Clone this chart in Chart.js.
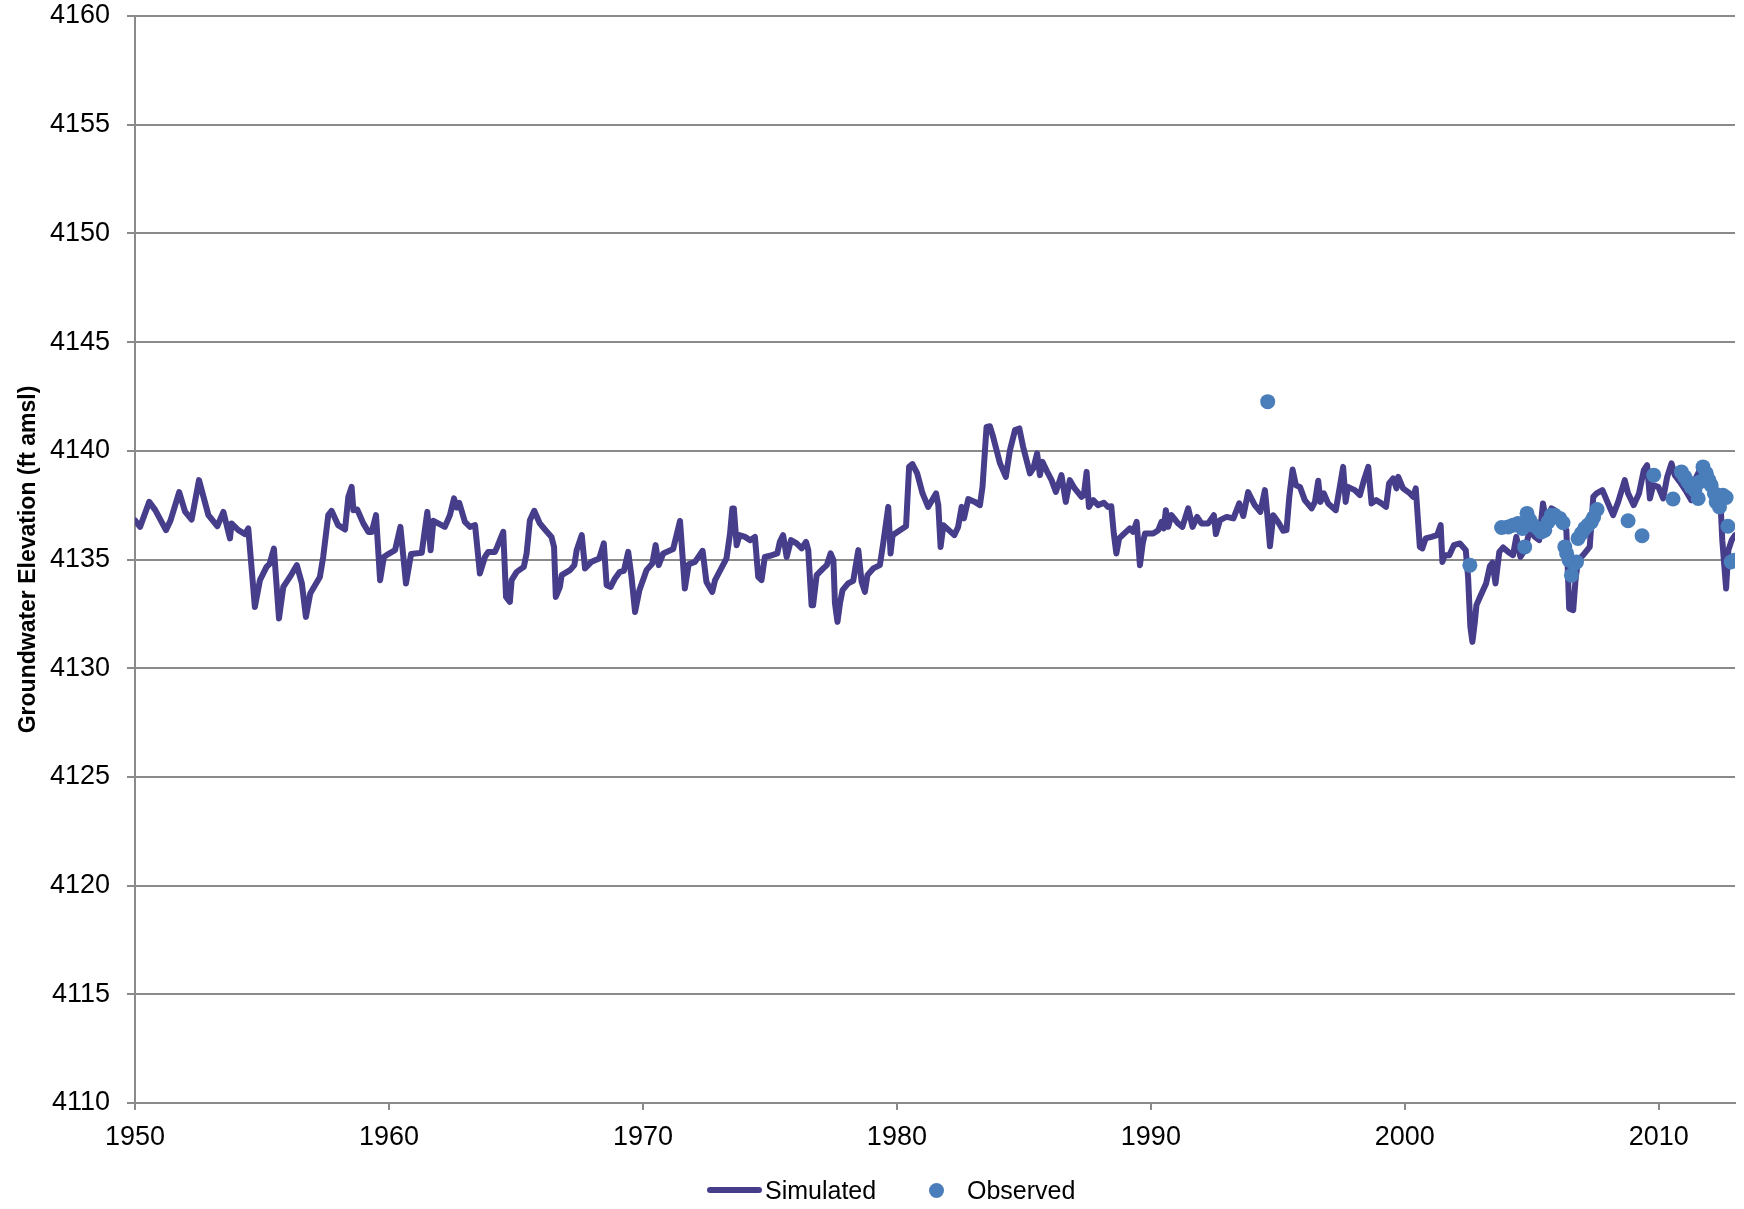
<!DOCTYPE html>
<html>
<head>
<meta charset="utf-8">
<title>Groundwater Elevation</title>
<script src="https://cdn.jsdelivr.net/npm/chart.js@4.4.1/dist/chart.umd.min.js"></script>
<style>
    body { margin: 0; background: #fff; }
    #wrap { position: relative; width: 1744px; height: 1209px; }
    .legend { position: absolute; left: 0; top: 0; width: 1744px; height: 1209px; pointer-events: none;
              font: 25px "Liberation Sans", Arial, sans-serif; color: #000; }
    .legend span { position: absolute; line-height: 30px; }
    .swatch-line { position: absolute; left: 707px; top: 1187px; width: 55px; height: 6px; border-radius: 3px; background: #463d8b; }
    .swatch-dot { position: absolute; left: 929px; top: 1183px; width: 15px; height: 15px; border-radius: 50%; background: #4a7ebb; }
</style>
</head>
<body>
<div id="wrap">
    <canvas id="mainChart"></canvas>
    <div class="legend">
        <div class="swatch-line"></div>
        <span style="left:765px; top:1175px;">Simulated</span>
        <div class="swatch-dot"></div>
        <span style="left:967px; top:1175px;">Observed</span>
    </div>
</div>
<script>
// Simulated groundwater elevation (ft amsl), read off the model hydrograph
const simYears = [
    1950.0, 1950.2, 1950.56, 1950.8, 1951.22, 1951.4, 1951.74, 1951.97, 1952.23, 1952.52,
    1952.89, 1953.24, 1953.48, 1953.74, 1953.8, 1954.07, 1954.33, 1954.46, 1954.72, 1954.92,
    1955.18, 1955.3, 1955.47, 1955.67, 1955.84, 1956.1, 1956.37, 1956.57, 1956.73, 1956.9,
    1957.28, 1957.41, 1957.61, 1957.74, 1958.0, 1958.27, 1958.4, 1958.53, 1958.6, 1958.75,
    1958.99, 1959.19, 1959.32, 1959.49, 1959.65, 1959.8, 1959.97, 1960.24, 1960.45, 1960.67,
    1960.87, 1961.29, 1961.51, 1961.64, 1961.75, 1962.2, 1962.4, 1962.56, 1962.67, 1962.77,
    1962.99, 1963.19, 1963.39, 1963.58, 1963.78, 1963.91, 1964.17, 1964.26, 1964.5, 1964.61,
    1964.76, 1964.83, 1965.03, 1965.31, 1965.42, 1965.55, 1965.72, 1965.94, 1966.14, 1966.4,
    1966.5, 1966.57, 1966.73, 1966.8, 1967.13, 1967.3, 1967.39, 1967.59, 1967.72, 1967.98,
    1968.28, 1968.46, 1968.57, 1968.73, 1968.9, 1969.09, 1969.25, 1969.42, 1969.55, 1969.69,
    1969.86, 1970.14, 1970.37, 1970.5, 1970.62, 1970.8, 1971.19, 1971.46, 1971.65, 1971.8,
    1972.05, 1972.35, 1972.5, 1972.73, 1972.84, 1973.29, 1973.43, 1973.52, 1973.58, 1973.69,
    1973.8, 1974.02, 1974.22, 1974.41, 1974.54, 1974.67, 1974.8, 1975.0, 1975.29, 1975.39,
    1975.52, 1975.66, 1975.83, 1976.05, 1976.25, 1976.42, 1976.51, 1976.64, 1976.7, 1976.84,
    1977.1, 1977.24, 1977.39, 1977.5, 1977.56, 1977.66, 1977.76, 1977.86, 1978.08, 1978.28,
    1978.48, 1978.61, 1978.74, 1978.84, 1979.07, 1979.33, 1979.46, 1979.66, 1979.75, 1979.83,
    1980.12, 1980.36, 1980.48, 1980.61, 1980.8, 1981.01, 1981.23, 1981.54, 1981.63, 1981.72,
    1981.83, 1982.26, 1982.41, 1982.55, 1982.64, 1982.81, 1983.07, 1983.27, 1983.37, 1983.53,
    1983.66, 1983.79, 1984.06, 1984.29, 1984.45, 1984.65, 1984.82, 1984.97, 1985.24, 1985.37,
    1985.52, 1985.63, 1985.73, 1985.92, 1986.09, 1986.26, 1986.48, 1986.65, 1986.81, 1987.0,
    1987.27, 1987.36, 1987.47, 1987.56, 1987.73, 1987.92, 1988.15, 1988.31, 1988.44, 1988.54,
    1988.64, 1988.75, 1989.02, 1989.17, 1989.3, 1989.44, 1989.57, 1989.68, 1989.77, 1990.09,
    1990.29, 1990.42, 1990.51, 1990.59, 1990.68, 1990.81, 1991.07, 1991.24, 1991.47, 1991.64,
    1991.82, 1991.99, 1992.26, 1992.48, 1992.56, 1992.72, 1992.98, 1993.25, 1993.48, 1993.64,
    1993.83, 1994.09, 1994.31, 1994.49, 1994.58, 1994.69, 1994.82, 1995.01, 1995.21, 1995.34,
    1995.45, 1995.58, 1995.71, 1995.87, 1996.06, 1996.33, 1996.46, 1996.59, 1996.68, 1996.81,
    1996.98, 1997.28, 1997.44, 1997.57, 1997.67, 1997.76, 1998.03, 1998.23, 1998.39, 1998.56,
    1998.69, 1998.87, 1999.08, 1999.26, 1999.38, 1999.54, 1999.67, 1999.74, 1999.93, 2000.2,
    2000.33, 2000.43, 2000.59, 2000.69, 2000.82, 2001.05, 2001.27, 2001.41, 2001.48, 2001.57,
    2001.75, 2001.93, 2002.17, 2002.4, 2002.49, 2002.58, 2002.66, 2002.75, 2002.82, 2002.95,
    2003.2, 2003.35, 2003.45, 2003.57, 2003.72, 2003.87, 2004.07, 2004.26, 2004.39, 2004.55,
    2004.72, 2004.92, 2005.12, 2005.29, 2005.44, 2005.58, 2005.77, 2005.9, 2006.17, 2006.36,
    2006.47, 2006.63, 2006.72, 2006.82, 2007.02, 2007.28, 2007.42, 2007.55, 2007.78, 2008.0,
    2008.2, 2008.4, 2008.66, 2008.79, 2009.01, 2009.22, 2009.41, 2009.54, 2009.65, 2009.78,
    2009.98, 2010.17, 2010.33, 2010.5, 2010.63, 2010.83, 2011.09, 2011.28, 2011.48, 2011.68,
    2011.87, 2012.14, 2012.34, 2012.43, 2012.5, 2012.65, 2012.74, 2012.87, 2013.0
];
const simValues = [
    4136.8, 4136.5, 4137.65, 4137.27, 4136.35, 4136.8, 4138.1, 4137.2, 4136.84, 4138.65,
    4137.04, 4136.53, 4137.19, 4135.97, 4136.66, 4136.35, 4136.17, 4136.43, 4132.82, 4134.05,
    4134.66, 4134.8, 4135.5, 4132.29, 4133.74, 4134.2, 4134.74, 4133.9, 4132.36, 4133.44,
    4134.2, 4135.12, 4137.04, 4137.24, 4136.58, 4136.38, 4137.88, 4138.34, 4137.27, 4137.3,
    4136.66, 4136.27, 4136.27, 4137.04, 4134.05, 4135.12, 4135.25, 4135.43, 4136.5, 4133.9,
    4135.25, 4135.31, 4137.19, 4135.43, 4136.78, 4136.5, 4137.04, 4137.81, 4137.39, 4137.6,
    4136.73, 4136.5, 4136.58, 4134.36, 4135.12, 4135.35, 4135.35, 4135.58, 4136.27, 4133.28,
    4133.05, 4134.05, 4134.43, 4134.66, 4135.28, 4136.81, 4137.24, 4136.66, 4136.38, 4136.04,
    4135.58, 4133.28, 4133.74, 4134.28, 4134.51, 4134.74, 4135.43, 4136.12, 4134.59, 4134.9,
    4135.05, 4135.74, 4133.82, 4133.74, 4134.13, 4134.43, 4134.48, 4135.35, 4134.2, 4132.59,
    4133.59, 4134.51, 4134.82, 4135.66, 4134.74, 4135.28, 4135.48, 4136.77, 4133.67, 4134.78,
    4134.89, 4135.4, 4133.97, 4133.51, 4134.05, 4135.05, 4136.2, 4137.35, 4137.35, 4135.66,
    4136.12, 4136.04, 4135.89, 4136.04, 4134.2, 4134.05, 4135.12, 4135.17, 4135.28, 4135.81,
    4136.12, 4135.12, 4135.89, 4135.74, 4135.51, 4135.81, 4135.43, 4132.9, 4132.9, 4134.28,
    4134.59, 4134.74, 4135.28, 4134.97, 4133.0, 4132.13, 4133.0, 4133.59, 4133.9, 4134.02,
    4135.43, 4133.97, 4133.51, 4134.28, 4134.59, 4134.74, 4135.74, 4137.42, 4135.28, 4136.12,
    4136.35, 4136.53, 4139.26, 4139.39, 4138.96, 4138.04, 4137.42, 4138.04, 4137.5, 4135.58,
    4136.58, 4136.12, 4136.5, 4137.42, 4136.89, 4137.78, 4137.65, 4137.5, 4138.34, 4141.1,
    4141.13, 4140.64, 4139.42, 4138.8, 4140.03, 4140.95, 4141.03, 4140.18, 4138.96, 4139.19,
    4139.88, 4138.88, 4139.49, 4139.03, 4138.65, 4138.11, 4138.88, 4137.65, 4138.65, 4138.27,
    4137.88, 4137.96, 4139.03, 4137.42, 4137.73, 4137.5, 4137.61, 4137.42, 4137.45, 4136.2,
    4135.28, 4135.97, 4136.27, 4136.43, 4136.27, 4136.73, 4134.74, 4135.74, 4136.2, 4136.2,
    4136.35, 4136.73, 4136.43, 4137.27, 4136.5, 4137.04, 4136.66, 4136.5, 4137.35, 4136.5,
    4136.96, 4136.66, 4136.66, 4137.04, 4136.17, 4136.81, 4136.96, 4136.89, 4137.58, 4137.0,
    4138.1, 4137.5, 4137.19, 4138.19, 4137.12, 4135.61, 4137.04, 4136.73, 4136.32, 4136.35,
    4137.88, 4139.14, 4138.42, 4138.34, 4137.73, 4137.35, 4137.65, 4138.62, 4137.65, 4138.04,
    4137.58, 4137.27, 4138.34, 4139.26, 4137.65, 4138.34, 4138.19, 4137.96, 4138.65, 4139.26,
    4137.58, 4137.73, 4137.58, 4137.42, 4138.5, 4138.73, 4138.27, 4138.8, 4138.27, 4138.04,
    4137.88, 4138.27, 4135.58, 4135.51, 4135.97, 4136.04, 4136.12, 4136.58, 4134.89, 4135.2,
    4135.2, 4135.66, 4135.74, 4135.43, 4134.2, 4131.9, 4131.21, 4132.06, 4132.9, 4133.25,
    4133.9, 4134.7, 4134.85, 4133.9, 4135.35, 4135.55, 4135.35, 4135.2, 4136.04, 4135.12,
    4135.43, 4136.35, 4136.04, 4135.89, 4137.58, 4136.66, 4137.35, 4137.27, 4136.73, 4136.35,
    4132.75, 4132.67, 4134.05, 4134.97, 4135.2, 4135.58, 4137.88, 4138.04, 4138.19, 4137.58,
    4137.04, 4137.65, 4138.65, 4138.04, 4137.5, 4138.04, 4139.11, 4139.34, 4137.81, 4138.42,
    4138.34, 4137.81, 4138.8, 4139.42, 4138.88, 4138.57, 4138.11, 4137.73, 4138.8, 4139.26,
    4138.88, 4138.34, 4137.96, 4137.58, 4135.89, 4133.67, 4135.43, 4135.89, 4136.12
];

// Observed water levels (ft amsl)
const obsYears = [
    1994.6, 2002.56, 2003.81, 2004.07, 2004.26, 2004.46, 2004.63, 2004.72, 2004.81, 2004.92,
    2005.05, 2005.24, 2005.37, 2005.51, 2005.64, 2005.77, 2005.9, 2006.1, 2006.23, 2006.3,
    2006.37, 2006.47, 2006.56, 2006.69, 2006.76, 2006.82, 2006.95, 2007.08, 2007.21, 2007.34,
    2007.43, 2007.57, 2008.79, 2009.34, 2009.8, 2010.56, 2010.89, 2011.02, 2011.15, 2011.28,
    2011.42, 2011.55, 2011.61, 2011.74, 2011.87, 2011.97, 2012.06, 2012.19, 2012.26, 2012.39,
    2012.52, 2012.65, 2012.72, 2012.85, 2012.98
];
const obsValues = [
    4142.26, 4134.74, 4136.47, 4136.5, 4136.58, 4136.66, 4136.43, 4135.58, 4137.12, 4136.81,
    4136.58, 4136.43, 4136.27, 4136.35, 4136.73, 4137.04, 4137.04, 4136.89, 4136.69, 4135.58,
    4135.28, 4134.97, 4134.28, 4134.82, 4134.89, 4135.97, 4136.2, 4136.43, 4136.58, 4136.73,
    4136.93, 4137.3, 4136.78, 4136.09, 4138.88, 4137.78, 4139.03, 4138.8, 4138.57, 4138.34,
    4138.19, 4137.81, 4138.57, 4139.26, 4138.96, 4138.65, 4138.42, 4138.04, 4137.65, 4137.42,
    4137.96, 4137.85, 4136.53, 4134.89, 4134.97
];

const xMin = 1950;
const xMax = 2013;
const yMin = 4110;
const yMax = 4160;

const lineColor = '#463d8b';
const dotColor = '#4a7ebb';
const gridColor = '#8a8a8a';
const fontFamily = '"Liberation Sans", Arial, sans-serif';

function toPoints(xs, ys) {
    return xs.map((x, i) => ({ x, y: ys[i] }));
}

document.addEventListener('DOMContentLoaded', () => {
    const ctx = document.getElementById('mainChart').getContext('2d');

    new Chart(ctx, {
        type: 'line',
        data: {
            datasets: [
                {
                    label: 'Observed',
                    data: toPoints(obsYears, obsValues),
                    showLine: false,
                    pointRadius: 7.5,
                    pointBackgroundColor: dotColor,
                    pointBorderWidth: 0,
                    order: 0,
                },
                {
                    label: 'Simulated',
                    data: toPoints(simYears, simValues),
                    borderColor: lineColor,
                    borderWidth: 6,
                    borderJoinStyle: 'round',
                    borderCapStyle: 'round',
                    pointRadius: 0,
                    tension: 0,
                    order: 1,
                },
            ],
        },
        options: {
            responsive: true,
            maintainAspectRatio: false,
            animation: false,
            layout: { padding: { top: 16, right: 9, left: 0, bottom: 0 } },
            plugins: {
                legend: { display: false },
                tooltip: { enabled: false },
            },
            scales: {
                x: {
                    type: 'linear',
                    min: xMin,
                    max: xMax,
                    afterFit: (scale) => {
                        scale.height = 106;
                        scale.paddingLeft = 0;
                        scale.paddingRight = 0;
                    },
                    ticks: {
                        stepSize: 10,
                        includeBounds: false,
                        color: '#000',
                        padding: 11,
                        maxRotation: 0,
                        font: { family: fontFamily, size: 27 },
                        callback: (v) => String(v),
                    },
                    grid: { drawOnChartArea: false, tickLength: 7, color: gridColor, lineWidth: 2 },
                    border: { color: gridColor, width: 2 },
                },
                y: {
                    min: yMin,
                    max: yMax,
                    afterFit: (scale) => {
                        scale.width = 135;
                        scale.paddingTop = 0;
                        scale.paddingBottom = 0;
                    },
                    ticks: {
                        stepSize: 5,
                        color: '#000',
                        padding: 17,
                        font: { family: fontFamily, size: 27 },
                        callback: (v) => String(v),
                    },
                    grid: { color: gridColor, lineWidth: 2, tickLength: 8 },
                    border: { color: gridColor, width: 2 },
                    title: {
                        display: true,
                        text: 'Groundwater Elevation (ft amsl)',
                        color: '#000',
                        padding: { top: 15, bottom: 0 },
                        font: { family: fontFamily, size: 23, weight: 'bold' },
                    },
                },
            },
        },
    });
});
</script>
</body>
</html>
